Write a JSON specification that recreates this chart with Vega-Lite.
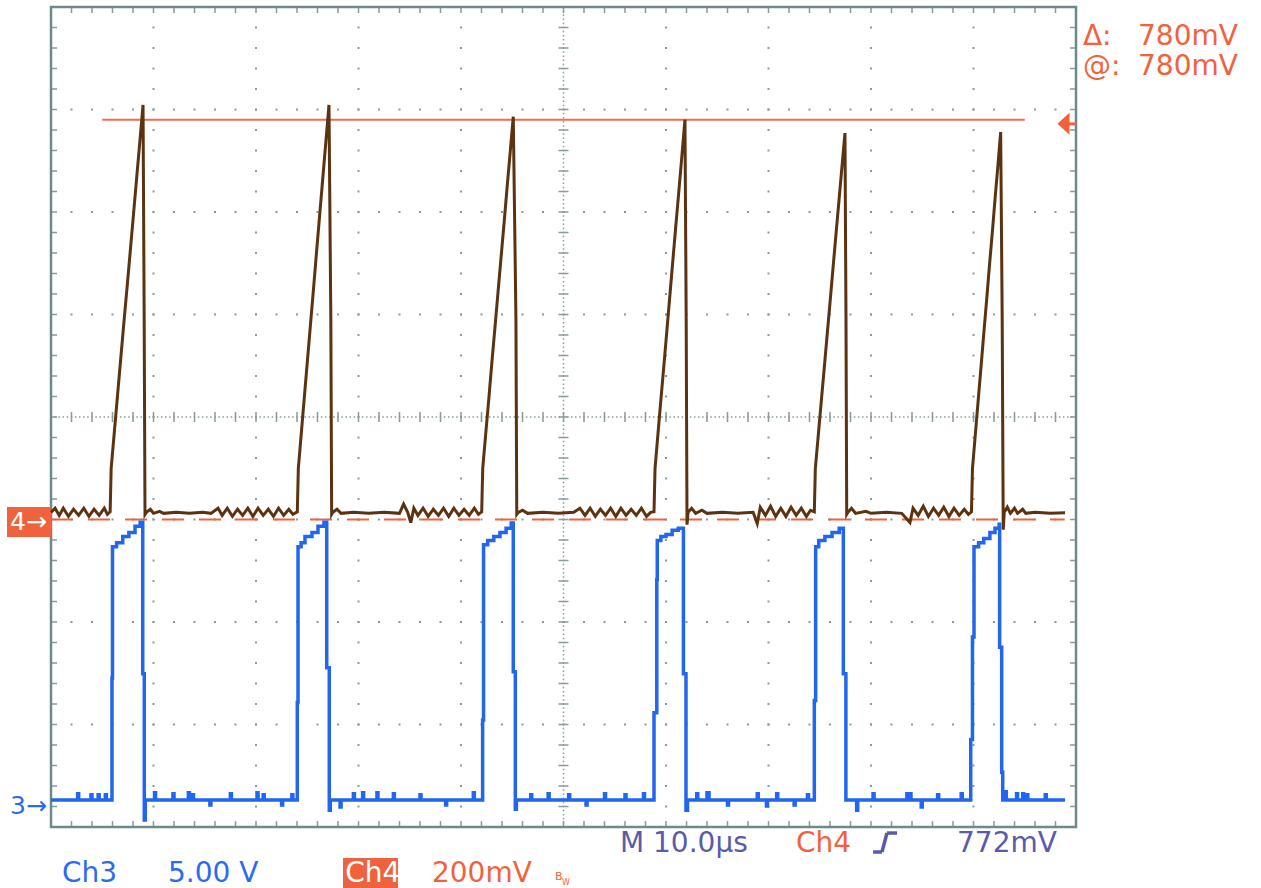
{
"$schema": "https://vega.github.io/schema/vega-lite/v6.json",
"width": 1025,
"height": 820,
"autosize": {"type": "none"},
"padding": {"left": 51, "top": 7, "right": 185, "bottom": 61},
"background": "#ffffff",
"config": {"view": {"stroke": null}, "text": {"font": "DejaVu Sans"}},
"data": {"values": [{}]},
"datasets": {
"vlines": [{"t": 10}, {"t": 20}, {"t": 30}, {"t": 40}, {"t": 60}, {"t": 70}, {"t": 80}, {"t": 90}],
"hlines": [{"d": -3}, {"d": -2}, {"d": -1}, {"d": 1}, {"d": 2}, {"d": 3}],
"ch4": [
{"t":0,"mv":14},{"t":0.4,"mv":22},{"t":0.8,"mv":8},{"t":1.2,"mv":22},{"t":1.7,"mv":6},{"t":2.2,"mv":20},{"t":2.7,"mv":8},{"t":3.2,"mv":22},{"t":3.7,"mv":6},{"t":4.2,"mv":20},{"t":4.7,"mv":8},{"t":5.2,"mv":22},{"t":5.5,"mv":10},
{"t":5.77,"mv":15},{"t":5.87,"mv":100},{"t":6.18,"mv":171},{"t":6.49,"mv":242},{"t":6.8,"mv":313},{"t":7.11,"mv":384},{"t":7.43,"mv":455},{"t":7.74,"mv":525},{"t":8.05,"mv":596},{"t":8.36,"mv":667},{"t":8.67,"mv":738},{"t":8.98,"mv":809},{"t":9.09,"mv":390},{"t":9.17,"mv":10},
{"t":9.3,"mv":14},{"t":9.7,"mv":20},{"t":10.0,"mv":12},{"t":10.6,"mv":16},{"t":11.0,"mv":12},{"t":12.2,"mv":14},{"t":13.5,"mv":12},{"t":14.8,"mv":14},{"t":15.6,"mv":12},{"t":16.3,"mv":22},{"t":16.7,"mv":8},{"t":17.2,"mv":22},{"t":17.7,"mv":6},{"t":18.2,"mv":20},{"t":18.7,"mv":8},{"t":19.2,"mv":22},{"t":19.7,"mv":6},{"t":20.2,"mv":22},{"t":20.7,"mv":8},{"t":21.2,"mv":20},{"t":21.7,"mv":6},{"t":22.2,"mv":22},{"t":22.7,"mv":8},{"t":23.2,"mv":20},{"t":23.6,"mv":10},
{"t":24.03,"mv":15},{"t":24.13,"mv":100},{"t":24.43,"mv":171},{"t":24.73,"mv":242},{"t":25.03,"mv":313},{"t":25.33,"mv":384},{"t":25.63,"mv":455},{"t":25.92,"mv":525},{"t":26.22,"mv":596},{"t":26.52,"mv":667},{"t":26.82,"mv":738},{"t":27.12,"mv":809},{"t":27.3,"mv":390},{"t":27.38,"mv":10},
{"t":27.5,"mv":14},{"t":27.9,"mv":20},{"t":28.3,"mv":12},{"t":29.5,"mv":14},{"t":31.0,"mv":12},{"t":32.5,"mv":14},{"t":34.0,"mv":12},{"t":34.4,"mv":30},{"t":34.8,"mv":14},{"t":35.1,"mv":-6},{"t":35.4,"mv":22},{"t":35.8,"mv":8},{"t":36.3,"mv":22},{"t":36.8,"mv":6},{"t":37.3,"mv":20},{"t":37.8,"mv":8},{"t":38.3,"mv":22},{"t":38.8,"mv":6},{"t":39.3,"mv":22},{"t":39.8,"mv":8},{"t":40.3,"mv":20},{"t":40.8,"mv":8},{"t":41.3,"mv":22},{"t":41.7,"mv":10},
{"t":42.02,"mv":15},{"t":42.12,"mv":100},{"t":42.42,"mv":169},{"t":42.72,"mv":237},{"t":43.01,"mv":306},{"t":43.31,"mv":374},{"t":43.61,"mv":443},{"t":43.91,"mv":512},{"t":44.21,"mv":580},{"t":44.5,"mv":649},{"t":44.8,"mv":717},{"t":45.1,"mv":786},{"t":45.36,"mv":390},{"t":45.44,"mv":10},
{"t":45.6,"mv":14},{"t":46.0,"mv":18},{"t":46.5,"mv":12},{"t":48.0,"mv":14},{"t":49.5,"mv":12},{"t":51.0,"mv":14},{"t":51.6,"mv":22},{"t":52.1,"mv":8},{"t":52.6,"mv":22},{"t":53.1,"mv":6},{"t":53.6,"mv":20},{"t":54.1,"mv":8},{"t":54.6,"mv":22},{"t":55.1,"mv":6},{"t":55.6,"mv":22},{"t":56.1,"mv":8},{"t":56.6,"mv":20},{"t":57.1,"mv":8},{"t":57.6,"mv":22},{"t":58.1,"mv":6},{"t":58.5,"mv":14},
{"t":58.83,"mv":15},{"t":58.93,"mv":100},{"t":59.22,"mv":168},{"t":59.51,"mv":236},{"t":59.81,"mv":304},{"t":60.1,"mv":372},{"t":60.39,"mv":440},{"t":60.68,"mv":508},{"t":60.97,"mv":576},{"t":61.27,"mv":644},{"t":61.56,"mv":712},{"t":61.85,"mv":780},{"t":61.97,"mv":390},{"t":62.05,"mv":-10},
{"t":62.15,"mv":14},{"t":62.5,"mv":22},{"t":62.9,"mv":12},{"t":63.5,"mv":18},{"t":64.0,"mv":12},{"t":65.5,"mv":14},{"t":67.0,"mv":12},{"t":68.5,"mv":14},{"t":68.9,"mv":-8},{"t":69.2,"mv":24},{"t":69.7,"mv":8},{"t":70.2,"mv":26},{"t":70.7,"mv":6},{"t":71.2,"mv":22},{"t":71.7,"mv":6},{"t":72.2,"mv":24},{"t":72.7,"mv":8},{"t":73.2,"mv":22},{"t":73.7,"mv":6},{"t":74.1,"mv":18},
{"t":74.47,"mv":15},{"t":74.57,"mv":100},{"t":74.86,"mv":165},{"t":75.15,"mv":231},{"t":75.44,"mv":296},{"t":75.73,"mv":362},{"t":76.02,"mv":427},{"t":76.3,"mv":492},{"t":76.59,"mv":558},{"t":76.88,"mv":623},{"t":77.17,"mv":689},{"t":77.46,"mv":754},{"t":77.56,"mv":390},{"t":77.63,"mv":10},
{"t":77.75,"mv":14},{"t":78.1,"mv":22},{"t":78.5,"mv":12},{"t":79.5,"mv":16},{"t":80.0,"mv":12},{"t":81.5,"mv":14},{"t":83.0,"mv":12},{"t":83.8,"mv":-6},{"t":84.1,"mv":22},{"t":84.6,"mv":8},{"t":85.1,"mv":26},{"t":85.6,"mv":6},{"t":86.1,"mv":22},{"t":86.6,"mv":8},{"t":87.1,"mv":24},{"t":87.6,"mv":6},{"t":88.1,"mv":22},{"t":88.6,"mv":8},{"t":89.1,"mv":20},{"t":89.5,"mv":10},
{"t":89.8,"mv":15},{"t":89.9,"mv":100},{"t":90.18,"mv":166},{"t":90.45,"mv":231},{"t":90.73,"mv":297},{"t":91.0,"mv":362},{"t":91.28,"mv":428},{"t":91.55,"mv":494},{"t":91.83,"mv":559},{"t":92.1,"mv":625},{"t":92.38,"mv":690},{"t":92.65,"mv":756},{"t":92.8,"mv":390},{"t":92.9,"mv":-20},
{"t":93.0,"mv":14},{"t":93.3,"mv":24},{"t":93.6,"mv":12},{"t":94.0,"mv":22},{"t":94.3,"mv":12},{"t":94.8,"mv":20},{"t":95.1,"mv":12},{"t":96.0,"mv":14},{"t":97.5,"mv":12},{"t":98.93,"mv":13}
],
"ch3": [
{"t":0,"v":0.05},{"t":2.6,"v":0.35},{"t":2.7,"v":0.05},{"t":3.9,"v":0.3},{"t":4.0,"v":0.05},{"t":4.6,"v":0.3},{"t":4.7,"v":0.05},{"t":5.3,"v":0.3},{"t":5.4,"v":0.05},
{"t":5.95,"v":6.0},{"t":6.0,"v":12.4},{"t":6.4,"v":12.6},{"t":7.0,"v":12.9},{"t":7.6,"v":13.1},{"t":8.2,"v":13.4},{"t":8.7,"v":13.6},{"t":8.95,"v":6.2},{"t":9.1,"v":-0.93},{"t":9.2,"v":0.05},
{"t":10.1,"v":0.4},{"t":10.2,"v":0.05},{"t":11.9,"v":0.35},{"t":12.0,"v":0.05},{"t":13.4,"v":0.4},{"t":13.5,"v":0.05},{"t":13.8,"v":0.3},{"t":13.9,"v":0.05},{"t":15.5,"v":-0.2},{"t":15.6,"v":0.05},{"t":17.5,"v":0.35},{"t":17.6,"v":0.05},{"t":20.1,"v":0.4},{"t":20.2,"v":0.05},{"t":20.7,"v":0.3},{"t":20.8,"v":0.05},{"t":22.5,"v":-0.2},{"t":22.6,"v":0.05},{"t":23.5,"v":0.3},{"t":23.6,"v":0.05},
{"t":24.03,"v":4.8},{"t":24.1,"v":12.4},{"t":24.4,"v":12.6},{"t":24.78,"v":12.9},{"t":25.46,"v":13.1},{"t":26.05,"v":13.4},{"t":26.63,"v":13.6},{"t":26.9,"v":6.5},{"t":27.15,"v":-0.45},{"t":27.25,"v":0.05},
{"t":28.2,"v":-0.3},{"t":28.3,"v":0.05},{"t":29.5,"v":0.35},{"t":29.6,"v":0.05},{"t":30.4,"v":0.4},{"t":30.5,"v":0.05},{"t":31.8,"v":0.4},{"t":31.9,"v":0.05},{"t":33.4,"v":0.35},{"t":33.5,"v":0.05},{"t":36.0,"v":0.3},{"t":36.1,"v":0.05},{"t":38.5,"v":-0.2},{"t":38.6,"v":0.05},{"t":41.2,"v":0.4},{"t":41.3,"v":0.05},
{"t":42.11,"v":3.95},{"t":42.2,"v":12.5},{"t":42.6,"v":12.7},{"t":43.2,"v":12.9},{"t":43.8,"v":13.1},{"t":44.4,"v":13.3},{"t":44.9,"v":13.56},{"t":45.1,"v":6.3},{"t":45.3,"v":-0.4},{"t":45.4,"v":0.05},
{"t":46.8,"v":0.3},{"t":46.9,"v":0.05},{"t":48.5,"v":0.35},{"t":48.6,"v":0.05},{"t":50.5,"v":0.3},{"t":50.6,"v":0.05},{"t":52.2,"v":-0.2},{"t":52.3,"v":0.05},{"t":54.0,"v":0.35},{"t":54.1,"v":0.05},{"t":56.0,"v":0.3},{"t":56.1,"v":0.05},{"t":57.8,"v":0.35},{"t":57.9,"v":0.05},
{"t":58.83,"v":4.3},{"t":59.1,"v":10.8},{"t":59.15,"v":12.7},{"t":59.5,"v":12.9},{"t":60.0,"v":13.0},{"t":60.6,"v":13.2},{"t":61.2,"v":13.3},{"t":61.7,"v":6.2},{"t":61.95,"v":-0.45},{"t":62.1,"v":0.05},
{"t":63.0,"v":0.35},{"t":63.1,"v":0.05},{"t":64.0,"v":0.4},{"t":64.2,"v":0.05},{"t":66.0,"v":-0.2},{"t":66.1,"v":0.05},{"t":68.9,"v":0.35},{"t":69.0,"v":0.05},{"t":69.8,"v":-0.25},{"t":69.9,"v":0.05},{"t":70.8,"v":0.35},{"t":70.9,"v":0.05},{"t":72.5,"v":-0.2},{"t":72.6,"v":0.05},{"t":73.8,"v":0.3},{"t":73.9,"v":0.05},
{"t":74.47,"v":4.9},{"t":74.6,"v":12.4},{"t":74.9,"v":12.7},{"t":75.5,"v":12.9},{"t":76.2,"v":13.1},{"t":76.9,"v":13.3},{"t":77.3,"v":6.2},{"t":77.55,"v":0.05},
{"t":78.6,"v":-0.45},{"t":78.7,"v":0.05},{"t":80.2,"v":0.35},{"t":80.3,"v":0.05},{"t":83.5,"v":0.35},{"t":83.6,"v":0.05},{"t":83.8,"v":0.35},{"t":83.9,"v":0.05},{"t":84.9,"v":-0.3},{"t":85.0,"v":0.05},{"t":86.5,"v":0.3},{"t":86.6,"v":0.05},{"t":88.8,"v":0.35},{"t":88.9,"v":0.05},
{"t":89.73,"v":3.0},{"t":89.9,"v":8.0},{"t":90.05,"v":12.4},{"t":90.5,"v":12.6},{"t":91.0,"v":12.8},{"t":91.6,"v":13.1},{"t":92.1,"v":13.3},{"t":92.5,"v":13.5},{"t":92.55,"v":7.5},{"t":92.75,"v":1.4},{"t":92.85,"v":0.05},
{"t":93.1,"v":0.45},{"t":93.2,"v":0.05},{"t":94.2,"v":0.35},{"t":94.3,"v":0.05},{"t":94.8,"v":0.35},{"t":94.9,"v":0.05},{"t":95.2,"v":0.3},{"t":95.3,"v":0.05},{"t":97.0,"v":0.3},{"t":97.1,"v":0.05},{"t":98.93,"v":0.05}
]
},
"resolve": {"scale": {"y": "independent"}},
"layer": [
{
"layer": [
{"data": {"name": "vlines"}, "mark": {"type": "rule", "color": "#8a9b9b", "strokeWidth": 2, "strokeDash": [2, 18.5], "strokeDashOffset": 1},
 "encoding": {"x": {"field": "t", "type": "quantitative", "scale": {"domain": [0, 100], "nice": false, "zero": false}, "axis": null},
  "y": {"datum": -4, "type": "quantitative", "scale": {"domain": [-4, 4], "nice": false, "zero": false}, "axis": null}, "y2": {"datum": 4}}},
{"data": {"name": "hlines"}, "mark": {"type": "rule", "color": "#8a9b9b", "strokeWidth": 2, "strokeDash": [2, 18.5], "strokeDashOffset": 1},
 "encoding": {"y": {"field": "d", "type": "quantitative", "scale": {"domain": [-4, 4], "nice": false, "zero": false}, "axis": null},
  "x": {"datum": 0, "type": "quantitative", "scale": {"domain": [0, 100], "nice": false, "zero": false}, "axis": null}, "x2": {"datum": 100}}},
{"mark": {"type": "rule", "color": "#8a9b9b", "strokeWidth": 1.5, "strokeDash": [1.5, 2.6], "strokeDashOffset": 0.75},
 "encoding": {"x": {"datum": 50, "type": "quantitative", "scale": {"domain": [0, 100], "nice": false, "zero": false}, "axis": null},
  "y": {"datum": -4, "type": "quantitative", "scale": {"domain": [-4, 4], "nice": false, "zero": false}, "axis": null}, "y2": {"datum": 4}}},
{"mark": {"type": "rule", "color": "#8a9b9b", "strokeWidth": 1.5, "strokeDash": [1.5, 2.6], "strokeDashOffset": 0.75},
 "encoding": {"y": {"datum": 0, "type": "quantitative", "scale": {"domain": [-4, 4], "nice": false, "zero": false}, "axis": null},
  "x": {"datum": 0, "type": "quantitative", "scale": {"domain": [0, 100], "nice": false, "zero": false}, "axis": null}, "x2": {"datum": 100}}},
{"mark": {"type": "rule", "color": "#8a9b9b", "strokeWidth": 10, "strokeDash": [1.5, 19], "strokeDashOffset": 0.75},
 "encoding": {"x": {"datum": 50, "type": "quantitative", "scale": {"domain": [0, 100], "nice": false, "zero": false}, "axis": null},
  "y": {"datum": -4, "type": "quantitative", "scale": {"domain": [-4, 4], "nice": false, "zero": false}, "axis": null}, "y2": {"datum": 4}}},
{"mark": {"type": "rule", "color": "#8a9b9b", "strokeWidth": 10, "strokeDash": [1.5, 19], "strokeDashOffset": 0.75},
 "encoding": {"y": {"datum": 0, "type": "quantitative", "scale": {"domain": [-4, 4], "nice": false, "zero": false}, "axis": null},
  "x": {"datum": 0, "type": "quantitative", "scale": {"domain": [0, 100], "nice": false, "zero": false}, "axis": null}, "x2": {"datum": 100}}},
{"mark": {"type": "rule", "color": "#8a9b9b", "strokeWidth": 6, "strokeDash": [1.5, 19], "strokeDashOffset": 0.75},
 "encoding": {"y": {"datum": 3.9707, "type": "quantitative", "scale": {"domain": [-4, 4], "nice": false, "zero": false}, "axis": null},
  "x": {"datum": 0, "type": "quantitative", "scale": {"domain": [0, 100], "nice": false, "zero": false}, "axis": null}, "x2": {"datum": 100}}},
{"mark": {"type": "rule", "color": "#8a9b9b", "strokeWidth": 6, "strokeDash": [1.5, 19], "strokeDashOffset": 0.75},
 "encoding": {"y": {"datum": -3.9707, "type": "quantitative", "scale": {"domain": [-4, 4], "nice": false, "zero": false}, "axis": null},
  "x": {"datum": 0, "type": "quantitative", "scale": {"domain": [0, 100], "nice": false, "zero": false}, "axis": null}, "x2": {"datum": 100}}},
{"mark": {"type": "rule", "color": "#8a9b9b", "strokeWidth": 6, "strokeDash": [1.5, 19], "strokeDashOffset": 0.75},
 "encoding": {"x": {"datum": 0.293, "type": "quantitative", "scale": {"domain": [0, 100], "nice": false, "zero": false}, "axis": null},
  "y": {"datum": -4, "type": "quantitative", "scale": {"domain": [-4, 4], "nice": false, "zero": false}, "axis": null}, "y2": {"datum": 4}}},
{"mark": {"type": "rule", "color": "#8a9b9b", "strokeWidth": 6, "strokeDash": [1.5, 19], "strokeDashOffset": 0.75},
 "encoding": {"x": {"datum": 99.707, "type": "quantitative", "scale": {"domain": [0, 100], "nice": false, "zero": false}, "axis": null},
  "y": {"datum": -4, "type": "quantitative", "scale": {"domain": [-4, 4], "nice": false, "zero": false}, "axis": null}, "y2": {"datum": 4}}},
{"mark": {"type": "rect", "filled": false, "color": "#6b8a8a", "stroke": "#6b8a8a", "strokeWidth": 2.5},
 "encoding": {"x": {"datum": 0, "type": "quantitative", "scale": {"domain": [0, 100], "nice": false, "zero": false}, "axis": null}, "x2": {"datum": 100},
  "y": {"datum": -4, "type": "quantitative", "scale": {"domain": [-4, 4], "nice": false, "zero": false}, "axis": null}, "y2": {"datum": 4}}},
{"mark": {"type": "text", "text": "Δ:", "align": "left", "baseline": "alphabetic", "fontSize": 28, "color": "#f0623e"},
 "encoding": {"x": {"datum": 100.68, "type": "quantitative", "scale": {"domain": [0, 100], "nice": false, "zero": false}, "axis": null},
  "y": {"datum": 3.629, "type": "quantitative", "scale": {"domain": [-4, 4], "nice": false, "zero": false}, "axis": null}}},
{"mark": {"type": "text", "text": "780mV", "align": "left", "baseline": "alphabetic", "fontSize": 28, "color": "#f0623e"},
 "encoding": {"x": {"datum": 106.05, "type": "quantitative", "scale": {"domain": [0, 100], "nice": false, "zero": false}, "axis": null},
  "y": {"datum": 3.629, "type": "quantitative", "scale": {"domain": [-4, 4], "nice": false, "zero": false}, "axis": null}}},
{"mark": {"type": "text", "text": "@:", "align": "left", "baseline": "alphabetic", "fontSize": 28, "color": "#f0623e"},
 "encoding": {"x": {"datum": 100.68, "type": "quantitative", "scale": {"domain": [0, 100], "nice": false, "zero": false}, "axis": null},
  "y": {"datum": 3.337, "type": "quantitative", "scale": {"domain": [-4, 4], "nice": false, "zero": false}, "axis": null}}},
{"mark": {"type": "text", "text": "780mV", "align": "left", "baseline": "alphabetic", "fontSize": 28, "color": "#f0623e"},
 "encoding": {"x": {"datum": 106.05, "type": "quantitative", "scale": {"domain": [0, 100], "nice": false, "zero": false}, "axis": null},
  "y": {"datum": 3.337, "type": "quantitative", "scale": {"domain": [-4, 4], "nice": false, "zero": false}, "axis": null}}},
{"mark": {"type": "text", "text": "M 10.0µs", "align": "left", "baseline": "alphabetic", "fontSize": 28, "color": "#5a5aaa"},
 "encoding": {"x": {"datum": 55.51, "type": "quantitative", "scale": {"domain": [0, 100], "nice": false, "zero": false}, "axis": null},
  "y": {"datum": -4.244, "type": "quantitative", "scale": {"domain": [-4, 4], "nice": false, "zero": false}, "axis": null}}},
{"mark": {"type": "text", "text": "Ch4", "align": "left", "baseline": "alphabetic", "fontSize": 28, "color": "#f0623e"},
 "encoding": {"x": {"datum": 72.68, "type": "quantitative", "scale": {"domain": [0, 100], "nice": false, "zero": false}, "axis": null},
  "y": {"datum": -4.244, "type": "quantitative", "scale": {"domain": [-4, 4], "nice": false, "zero": false}, "axis": null}}},
{"mark": {"type": "rule", "color": "#5a5aaa", "strokeWidth": 3.5},
 "encoding": {"x": {"datum": 80.2, "type": "quantitative", "scale": {"domain": [0, 100], "nice": false, "zero": false}, "axis": null}, "x2": {"datum": 81.07},
  "y": {"datum": -4.244, "type": "quantitative", "scale": {"domain": [-4, 4], "nice": false, "zero": false}, "axis": null}, "y2": {"datum": -4.244}}},
{"mark": {"type": "rule", "color": "#5a5aaa", "strokeWidth": 3.5},
 "encoding": {"x": {"datum": 81.07, "type": "quantitative", "scale": {"domain": [0, 100], "nice": false, "zero": false}, "axis": null}, "x2": {"datum": 81.56},
  "y": {"datum": -4.244, "type": "quantitative", "scale": {"domain": [-4, 4], "nice": false, "zero": false}, "axis": null}, "y2": {"datum": -4.059}}},
{"mark": {"type": "rule", "color": "#5a5aaa", "strokeWidth": 3.5},
 "encoding": {"x": {"datum": 81.56, "type": "quantitative", "scale": {"domain": [0, 100], "nice": false, "zero": false}, "axis": null}, "x2": {"datum": 82.54},
  "y": {"datum": -4.059, "type": "quantitative", "scale": {"domain": [-4, 4], "nice": false, "zero": false}, "axis": null}, "y2": {"datum": -4.059}}},
{"mark": {"type": "text", "text": "772mV", "align": "left", "baseline": "alphabetic", "fontSize": 28, "color": "#5a5aaa"},
 "encoding": {"x": {"datum": 88.39, "type": "quantitative", "scale": {"domain": [0, 100], "nice": false, "zero": false}, "axis": null},
  "y": {"datum": -4.244, "type": "quantitative", "scale": {"domain": [-4, 4], "nice": false, "zero": false}, "axis": null}}},
{"mark": {"type": "text", "text": "Ch3", "align": "left", "baseline": "alphabetic", "fontSize": 28, "color": "#2a6cf0"},
 "encoding": {"x": {"datum": 1.07, "type": "quantitative", "scale": {"domain": [0, 100], "nice": false, "zero": false}, "axis": null},
  "y": {"datum": -4.537, "type": "quantitative", "scale": {"domain": [-4, 4], "nice": false, "zero": false}, "axis": null}}},
{"mark": {"type": "text", "text": "5.00 V", "align": "left", "baseline": "alphabetic", "fontSize": 28, "color": "#2a6cf0"},
 "encoding": {"x": {"datum": 11.41, "type": "quantitative", "scale": {"domain": [0, 100], "nice": false, "zero": false}, "axis": null},
  "y": {"datum": -4.537, "type": "quantitative", "scale": {"domain": [-4, 4], "nice": false, "zero": false}, "axis": null}}},
{"mark": {"type": "rect", "color": "#f0623e"},
 "encoding": {"x": {"datum": 28.49, "type": "quantitative", "scale": {"domain": [0, 100], "nice": false, "zero": false}, "axis": null}, "x2": {"datum": 33.85},
  "y": {"datum": -4.302, "type": "quantitative", "scale": {"domain": [-4, 4], "nice": false, "zero": false}, "axis": null}, "y2": {"datum": -4.595}}},
{"mark": {"type": "text", "text": "Ch4", "align": "left", "baseline": "alphabetic", "fontSize": 28, "color": "#ffffff"},
 "encoding": {"x": {"datum": 28.7, "type": "quantitative", "scale": {"domain": [0, 100], "nice": false, "zero": false}, "axis": null},
  "y": {"datum": -4.537, "type": "quantitative", "scale": {"domain": [-4, 4], "nice": false, "zero": false}, "axis": null}}},
{"mark": {"type": "text", "text": "200mV", "align": "left", "baseline": "alphabetic", "fontSize": 28, "color": "#f0623e"},
 "encoding": {"x": {"datum": 37.17, "type": "quantitative", "scale": {"domain": [0, 100], "nice": false, "zero": false}, "axis": null},
  "y": {"datum": -4.537, "type": "quantitative", "scale": {"domain": [-4, 4], "nice": false, "zero": false}, "axis": null}}},
{"mark": {"type": "text", "text": "B", "align": "left", "baseline": "alphabetic", "fontSize": 11, "color": "#f0623e"},
 "encoding": {"x": {"datum": 49.17, "type": "quantitative", "scale": {"domain": [0, 100], "nice": false, "zero": false}, "axis": null},
  "y": {"datum": -4.517, "type": "quantitative", "scale": {"domain": [-4, 4], "nice": false, "zero": false}, "axis": null}}},
{"mark": {"type": "text", "text": "W", "align": "left", "baseline": "alphabetic", "fontSize": 8, "color": "#f0623e"},
 "encoding": {"x": {"datum": 49.85, "type": "quantitative", "scale": {"domain": [0, 100], "nice": false, "zero": false}, "axis": null},
  "y": {"datum": -4.57, "type": "quantitative", "scale": {"domain": [-4, 4], "nice": false, "zero": false}, "axis": null}}},
{"mark": {"type": "rect", "color": "#f0623e"},
 "encoding": {"x": {"datum": -4.29, "type": "quantitative", "scale": {"domain": [0, 100], "nice": false, "zero": false}, "axis": null}, "x2": {"datum": 0},
  "y": {"datum": -0.878, "type": "quantitative", "scale": {"domain": [-4, 4], "nice": false, "zero": false}, "axis": null}, "y2": {"datum": -1.171}}},
{"mark": {"type": "text", "text": "4→", "align": "left", "baseline": "alphabetic", "fontSize": 25, "color": "#ffffff"},
 "encoding": {"x": {"datum": -4.0, "type": "quantitative", "scale": {"domain": [0, 100], "nice": false, "zero": false}, "axis": null},
  "y": {"datum": -1.102, "type": "quantitative", "scale": {"domain": [-4, 4], "nice": false, "zero": false}, "axis": null}}},
{"mark": {"type": "text", "text": "3→", "align": "left", "baseline": "alphabetic", "fontSize": 25, "color": "#2a6cf0"},
 "encoding": {"x": {"datum": -4.0, "type": "quantitative", "scale": {"domain": [0, 100], "nice": false, "zero": false}, "axis": null},
  "y": {"datum": -3.873, "type": "quantitative", "scale": {"domain": [-4, 4], "nice": false, "zero": false}, "axis": null}}}
]
},
{
"layer": [
{"mark": {"type": "rule", "color": "#f0623e", "strokeWidth": 2, "strokeDash": [22, 15]},
 "encoding": {"y": {"datum": 0, "type": "quantitative", "scale": {"domain": [-600, 1000], "nice": false, "zero": false}, "axis": null},
  "x": {"datum": 0, "type": "quantitative", "scale": {"domain": [0, 100], "nice": false, "zero": false}, "axis": null}, "x2": {"datum": 98.9}}},
{"mark": {"type": "rule", "color": "#f26b4b", "strokeWidth": 2},
 "encoding": {"y": {"datum": 780, "type": "quantitative", "scale": {"domain": [-600, 1000], "nice": false, "zero": false}, "axis": null},
  "x": {"datum": 5, "type": "quantitative", "scale": {"domain": [0, 100], "nice": false, "zero": false}, "axis": null}, "x2": {"datum": 95}}},
{"data": {"name": "ch4"}, "mark": {"type": "line", "interpolate": "linear", "color": "#5b3311", "strokeWidth": 3},
 "encoding": {"x": {"field": "t", "type": "quantitative", "scale": {"domain": [0, 100], "nice": false, "zero": false}, "axis": null},
  "y": {"field": "mv", "type": "quantitative", "scale": {"domain": [-600, 1000], "nice": false, "zero": false}, "axis": null}}},
{"mark": {"type": "point", "shape": "M 0.5 -1 L -0.6 0 L 0.5 1 Z", "filled": true, "size": 484, "color": "#f0623e", "opacity": 1},
 "encoding": {"y": {"datum": 772, "type": "quantitative", "scale": {"domain": [-600, 1000], "nice": false, "zero": false}, "axis": null},
  "x": {"datum": 98.83, "type": "quantitative", "scale": {"domain": [0, 100], "nice": false, "zero": false}, "axis": null}}},
{"mark": {"type": "rule", "color": "#f0623e", "strokeWidth": 3},
 "encoding": {"y": {"datum": 772, "type": "quantitative", "scale": {"domain": [-600, 1000], "nice": false, "zero": false}, "axis": null},
  "x": {"datum": 98.83, "type": "quantitative", "scale": {"domain": [0, 100], "nice": false, "zero": false}, "axis": null}, "x2": {"datum": 100}}}
]
},
{"data": {"name": "ch3"}, "mark": {"type": "line", "interpolate": "step-after", "color": "#2266ee", "strokeWidth": 3.5},
 "encoding": {"x": {"field": "t", "type": "quantitative", "scale": {"domain": [0, 100], "nice": false, "zero": false}, "axis": null},
  "y": {"field": "v", "type": "quantitative", "scale": {"domain": [-1.27, 38.73], "nice": false, "zero": false}, "axis": null}}}
]
}
